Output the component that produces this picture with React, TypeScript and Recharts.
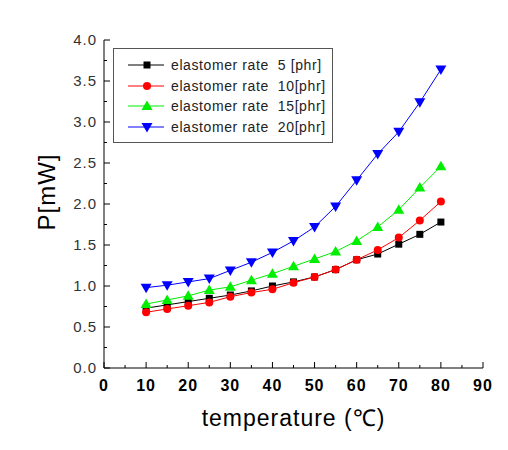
import React from "react";
import { LineChart, Line, XAxis, YAxis, Legend, Label } from "recharts";

// temperature (°C)
const temps = [10, 15, 20, 25, 30, 35, 40, 45, 50, 55, 60, 65, 70, 75, 80];

// P [mW] per elastomer rate
const rate5 = [0.73, 0.77, 0.81, 0.85, 0.89, 0.94, 1.0, 1.05, 1.11, 1.2, 1.32, 1.39, 1.51, 1.63, 1.78];
const rate10 = [0.68, 0.72, 0.76, 0.8, 0.87, 0.92, 0.96, 1.04, 1.11, 1.2, 1.32, 1.44, 1.59, 1.8, 2.03];
const rate15 = [0.78, 0.83, 0.88, 0.95, 0.99, 1.07, 1.15, 1.24, 1.33, 1.42, 1.55, 1.72, 1.93, 2.2, 2.46];
const rate20 = [0.98, 1.01, 1.05, 1.09, 1.19, 1.29, 1.41, 1.55, 1.72, 1.97, 2.29, 2.61, 2.88, 3.24, 3.64];

const xTicks = [0, 5, 10, 15, 20, 25, 30, 35, 40, 45, 50, 55, 60, 65, 70, 75, 80, 85, 90];
const yTicks = [0, 0.25, 0.5, 0.75, 1, 1.25, 1.5, 1.75, 2, 2.25, 2.5, 2.75, 3, 3.25, 3.5, 3.75, 4];

const series = [
  { key: "r5", name: "elastomer rate  5 [phr]", color: "#000000", shape: "square" },
  { key: "r10", name: "elastomer rate  10[phr]", color: "#ff0000", shape: "circle" },
  { key: "r15", name: "elastomer rate  15[phr]", color: "#00ee00", shape: "up" },
  { key: "r20", name: "elastomer rate  20[phr]", color: "#0000ff", shape: "down" },
];

const data = temps.map((t, i) => ({
  t,
  r5: rate5[i],
  r10: rate10[i],
  r15: rate15[i],
  r20: rate20[i],
}));

const FONT = "'Liberation Sans', Arial, sans-serif";

function Marker({ cx, cy, shape, color }: any) {
  if (cx == null || cy == null) return null;
  if (shape === "square") return <rect x={cx - 3.5} y={cy - 3.5} width={7} height={7} fill={color} />;
  if (shape === "circle") return <circle cx={cx} cy={cy} r={4} fill={color} />;
  if (shape === "up")
    return <polygon points={`${cx},${cy - 5.5} ${cx + 5.5},${cy + 4} ${cx - 5.5},${cy + 4}`} fill={color} />;
  return <polygon points={`${cx},${cy + 5.5} ${cx + 5.5},${cy - 4} ${cx - 5.5},${cy - 4}`} fill={color} />;
}

const XTick = (props: any) => {
  const { x, y, payload } = props;
  const major = payload.value % 10 === 0;
  return (
    <g>
      <line x1={x} x2={x} y1={y} y2={y - (major ? 6 : 3)} stroke="#000" />
      {major && (
        <text x={x} y={y + 23} textAnchor="middle" fontSize={16} fontWeight="bold" letterSpacing={1} fill="#000" fontFamily={FONT}>
          {payload.value}
        </text>
      )}
    </g>
  );
};

const YTick = (props: any) => {
  const { x, y, payload } = props;
  const major = Math.abs((payload.value * 2) % 1) < 1e-6;
  return (
    <g>
      <line x1={x} x2={x + (major ? 6 : 3)} y1={y} y2={y} stroke="#000" />
      {major && (
        <text x={x - 7} y={y + 5} textAnchor="end" fontSize={15} letterSpacing={1} fill="#333" fontFamily={FONT}>
          {payload.value.toFixed(1)}
        </text>
      )}
    </g>
  );
};

const LegendBox = () => (
  <div
    style={{
      border: "1px solid #555",
      background: "#fff",
      width: 220,
      padding: "6px 0 5px 0",
      fontFamily: FONT,
      fontSize: 14,
      letterSpacing: 0.6,
      color: "#222",
      boxSizing: "border-box",
    }}
  >
    {series.map((s) => (
      <div key={s.key} style={{ display: "flex", alignItems: "center", height: 20.5 }}>
        <svg width={36} height={14} style={{ marginLeft: 14, marginRight: 7 }}>
          <line x1={0} x2={36} y1={7} y2={7} stroke={s.color} />
          <Marker cx={19} cy={7} shape={s.shape} color={s.color} />
        </svg>
        <span style={{ whiteSpace: "pre" }}>{s.name}</span>
      </div>
    ))}
  </div>
);

export default function App() {
  return (
    <div style={{ width: 500, height: 442, background: "#fff" }}>
      <LineChart width={500} height={442} data={data} margin={{ top: 32, right: 25, bottom: 0, left: 10 }}>
        <XAxis
          dataKey="t"
          type="number"
          domain={[0, 90]}
          ticks={xTicks}
          interval={0}
          tickSize={0}
          tickMargin={0}
          tickLine={false}
          tick={<XTick />}
          axisLine={{ stroke: "#000" }}
          height={82}
        >
          <Label
            content={(p: any) => {
              const vb = p.viewBox;
              return (
                <text x={vb.x + vb.width / 2} y={vb.y + 58} textAnchor="middle" fontSize={23} letterSpacing={1} fill="#000" fontFamily={FONT}>
                  temperature (℃)
                </text>
              );
            }}
          />
        </XAxis>
        <XAxis xAxisId="top" orientation="top" type="number" domain={[0, 90]} tick={false} tickLine={false} height={0} axisLine={{ stroke: "#000" }} />
        <YAxis
          type="number"
          domain={[0, 4]}
          ticks={yTicks}
          interval={0}
          tickSize={0}
          tickMargin={0}
          tickLine={false}
          tick={<YTick />}
          axisLine={{ stroke: "#000" }}
          width={86}
        >
          <Label
            content={(p: any) => {
              const vb = p.viewBox;
              const cx = vb.x + 28;
              const cy = vb.y + vb.height / 2 - 12;
              return (
                <text x={cx} y={cy} transform={`rotate(-90 ${cx} ${cy})`} textAnchor="middle" dominantBaseline="central" fontSize={24} letterSpacing={1} fill="#000" fontFamily={FONT}>
                  P[mW]
                </text>
              );
            }}
          />
        </YAxis>
        <YAxis yAxisId="right" orientation="right" domain={[0, 4]} tick={false} tickLine={false} width={0} axisLine={{ stroke: "#000" }} />
        <Legend
          content={<LegendBox />}
          layout="vertical"
          verticalAlign="middle"
          align="center"
          wrapperStyle={{ left: 105, top: 40, width: 222 }}
        />
        {series.map((s) => (
          <Line
            key={s.key}
            dataKey={s.key}
            name={s.name}
            stroke={s.color}
            strokeWidth={1}
            isAnimationActive={false}
            dot={(p: any) => <Marker key={`${s.key}-${p.index}`} cx={p.cx} cy={p.cy} shape={s.shape} color={s.color} />}
            activeDot={false}
          />
        ))}
      </LineChart>
    </div>
  );
}
